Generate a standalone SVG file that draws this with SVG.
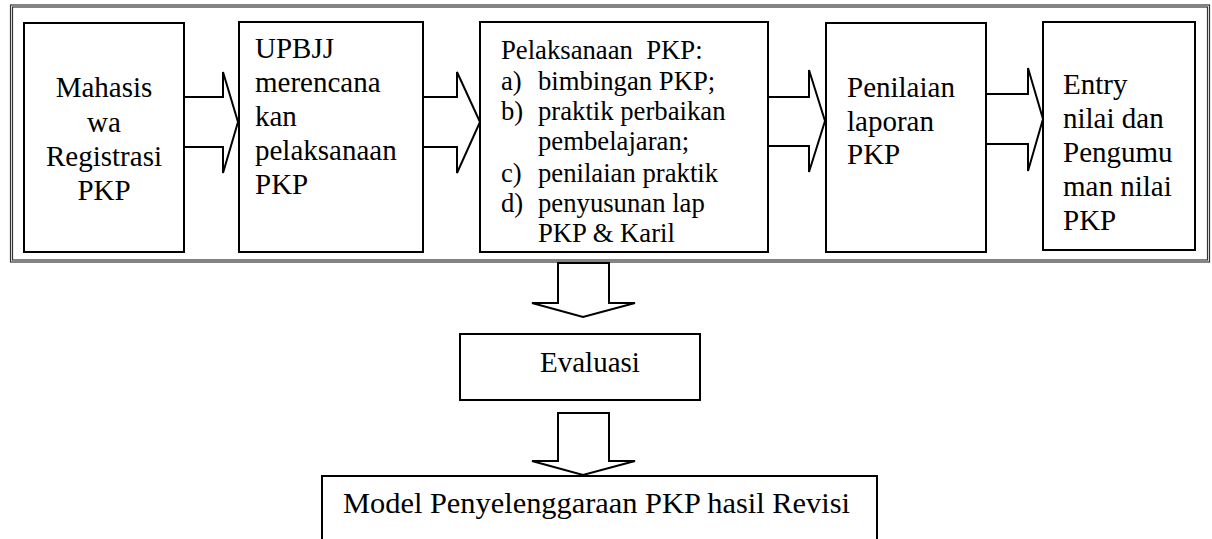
<svg xmlns="http://www.w3.org/2000/svg" width="1212" height="539" viewBox="0 0 1212 539">
<style>
.box{fill:#fff;stroke:#000;stroke-width:2}
.arr{fill:#fff;stroke:#000;stroke-width:2;stroke-linejoin:miter}
.fr{fill:none;stroke:#333;stroke-width:1.2}
text{font-family:"Liberation Serif","Times New Roman",serif;font-size:29px;fill:#000}
.s{font-size:26.7px}
.m{font-size:30.4px}
.c{text-anchor:middle}
</style>
<rect width="1212" height="539" fill="#fff"/>
<g id="frame">
<rect class="fr" x="10.5" y="5" width="1199" height="257"/>
<rect class="fr" x="12.5" y="7" width="1195" height="253"/>
</g>
<g id="connectors">
<polygon class="arr" points="184,97 223,97 223,72 238,122 223,173 223,147 184,147"/>
<polygon class="arr" points="423,97 457,97 457,72 480,122 457,173 457,147 423,147"/>
<polygon class="arr" points="768,97 809,97 809,70 825,121 809,172 809,146 768,146"/>
<polygon class="arr" points="986,94 1028,94 1028,68 1043,119 1028,171 1028,144 986,144"/>
<polygon class="arr" points="558,263 609,263 609,303 635,303 583,317 532,303 558,303"/>
<polygon class="arr" points="558,413 609,413 609,461 635,461 583,475 532,461 558,461"/>
</g>
<g id="n1">
<rect class="box" x="24" y="23" width="160" height="229"/>
<text class="c" x="104" y="97">Mahasis</text>
<text class="c" x="104" y="131.5">wa</text>
<text class="c" x="104" y="166">Registrasi</text>
<text class="c" x="104" y="199.5">PKP</text>
</g>
<g id="n2">
<rect class="box" x="239" y="22" width="184" height="230"/>
<text x="255" y="58">UPBJJ</text>
<text x="255" y="92">merencana</text>
<text x="255" y="126">kan</text>
<text x="255" y="160">pelaksanaan</text>
<text x="255" y="194">PKP</text>
</g>
<g id="n3">
<rect class="box" x="480" y="22" width="288" height="230"/>
<text class="s" x="501" y="59" xml:space="preserve">Pelaksanaan  PKP:</text>
<text class="s" x="501" y="90">a)</text><text class="s" x="538" y="90">bimbingan PKP;</text>
<text class="s" x="501" y="120">b)</text><text class="s" x="538" y="120">praktik perbaikan</text>
<text class="s" x="538" y="150">pembelajaran;</text>
<text class="s" x="501" y="182">c)</text><text class="s" x="538" y="182">penilaian praktik</text>
<text class="s" x="501" y="212">d)</text><text class="s" x="538" y="212">penyusunan lap</text>
<text class="s" x="538" y="242">PKP &amp; Karil</text>
</g>
<g id="n4">
<rect class="box" x="826" y="23" width="160" height="229"/>
<text x="847" y="97">Penilaian</text>
<text x="847" y="131">laporan</text>
<text x="847" y="164">PKP</text>
</g>
<g id="n5">
<rect class="box" x="1043" y="22" width="152" height="228"/>
<text x="1063" y="94">Entry</text>
<text x="1063" y="128">nilai dan</text>
<text x="1063" y="162">Pengumu</text>
<text x="1063" y="196">man nilai</text>
<text x="1063" y="230">PKP</text>
</g>
<g id="n6">
<rect class="box" x="460" y="334" width="240" height="66"/>
<text x="540" y="372">Evaluasi</text>
</g>
<g id="n7">
<path d="M322,540 V476 H877 V540" fill="#fff" stroke="#000" stroke-width="2"/>
<text class="m" x="343" y="513">Model Penyelenggaraan PKP hasil Revisi</text>
</g>
</svg>
